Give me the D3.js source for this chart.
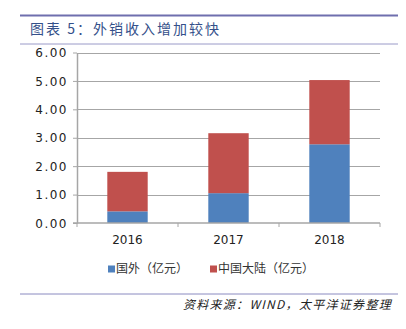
<!DOCTYPE html>
<html><head><meta charset="utf-8">
<script src="https://cdn.jsdelivr.net/npm/d3@7"></script>
<style>body{margin:0;background:#fff}svg{display:block}</style>
</head><body>
<script>
const categories = ["2016", "2017", "2018"];
const overseas = [0.41, 1.05, 2.77];
const mainland = [1.39, 2.11, 2.26];
const yTicks = [0, 1, 2, 3, 4, 5, 6];
const seriesNames = ["国外（亿元）", "中国大陆（亿元）"];
const colors = ["#4F81BD", "#C0504D"];

const W = 406, H = 329;
const svg = d3.select("body").append("svg").attr("width", W).attr("height", H);
const cjk = "'Noto Sans CJK SC', sans-serif";

// header lines and title
svg.append("line").attr("x1", 20).attr("x2", 398).attr("y1", 15.5).attr("y2", 15.5).attr("stroke", "#6f6fae").attr("stroke-width", 2);
svg.append("line").attr("x1", 20).attr("x2", 398).attr("y1", 44).attr("y2", 44).attr("stroke", "#9a9ac8").attr("stroke-width", 1);
svg.append("text").attr("x", 30).attr("y", 34).attr("font-family", cjk).attr("font-size", 14)
  .attr("letter-spacing", 2).attr("fill", "#34508a").text("图表 5：外销收入增加较快");

const x = d3.scaleBand().domain(categories).range([77, 380]).paddingInner(0.6).paddingOuter(0.3);
const y = d3.scaleLinear().domain([0, 6]).range([223, 52.5]);

// gridlines
svg.append("g").selectAll("line").data(yTicks.slice(1)).join("line")
  .attr("x1", 77).attr("x2", 380).attr("y1", d => Math.round(y(d)) + 0.5).attr("y2", d => Math.round(y(d)) + 0.5)
  .attr("stroke", "#a6a6a6");

// stacked data
const data = categories.map((c, i) => ({cat: c, a: overseas[i], b: mainland[i]}));
const stack = d3.stack().keys(["a", "b"])(data);
svg.append("g").selectAll("g").data(stack).join("g").attr("fill", (d, i) => colors[i])
  .selectAll("rect").data(d => d).join("rect")
  .attr("x", d => x(d.data.cat)).attr("width", x.bandwidth())
  .attr("y", d => y(d[1])).attr("height", d => y(d[0]) - y(d[1]));

// y axis
const yAxis = svg.append("g").attr("transform", "translate(77,0)")
  .call(d3.axisLeft(y).tickValues(yTicks).tickFormat(d3.format(".2f")).tickSize(4).tickSizeOuter(0));
yAxis.select(".domain").attr("stroke", "#a6a6a6").attr("stroke-width", 1.5);
yAxis.selectAll(".tick line").attr("stroke", "#a6a6a6");
yAxis.selectAll("text").attr("font-family", "'DejaVu Sans', sans-serif").attr("font-size", 12)
  .attr("letter-spacing", 1.5).attr("fill", "#222").attr("x", -9).attr("dy", "0.35em");

// x axis
const xb = d3.scaleLinear().domain([0, 3]).range([77, 380]);
const xAxis = svg.append("g").attr("transform", "translate(0,223)");
xAxis.append("line").attr("x1", 73).attr("x2", 380).attr("y1", 0).attr("y2", 0).attr("stroke", "#a6a6a6").attr("stroke-width", 1.5);
xAxis.selectAll(".bt").data([0, 1, 2, 3]).join("line").attr("class", "bt")
  .attr("x1", d => xb(d)).attr("x2", d => xb(d)).attr("y1", 0).attr("y2", 4).attr("stroke", "#a6a6a6");
xAxis.selectAll("text").data(categories).join("text")
  .attr("x", d => x(d) + x.bandwidth() / 2).attr("y", 21).attr("text-anchor", "middle")
  .attr("font-family", "'DejaVu Sans', sans-serif").attr("font-size", 12).attr("fill", "#222").text(d => d);

// legend
const legX = [108, 210];
const leg = svg.append("g").selectAll("g").data(seriesNames).join("g")
  .attr("transform", (d, i) => `translate(${legX[i]},269)`);
leg.append("rect").attr("x", 0).attr("y", -3.5).attr("width", 7).attr("height", 7).attr("fill", (d, i) => colors[i]);
leg.append("text").attr("x", 8).attr("y", 0).attr("dy", "0.35em").attr("font-family", cjk).attr("font-size", 12).attr("fill", "#333").text(d => d);

// footer
svg.append("line").attr("x1", 20).attr("x2", 398).attr("y1", 294).attr("y2", 294).attr("stroke", "#8a8ac0").attr("stroke-width", 1);
svg.append("text").attr("x", 392).attr("y", 309).attr("text-anchor", "end").attr("font-family", cjk)
  .attr("font-size", 12).attr("font-style", "italic").attr("letter-spacing", 1.3).attr("fill", "#222").text("资料来源：WIND，太平洋证券整理");
</script>
</body></html>
